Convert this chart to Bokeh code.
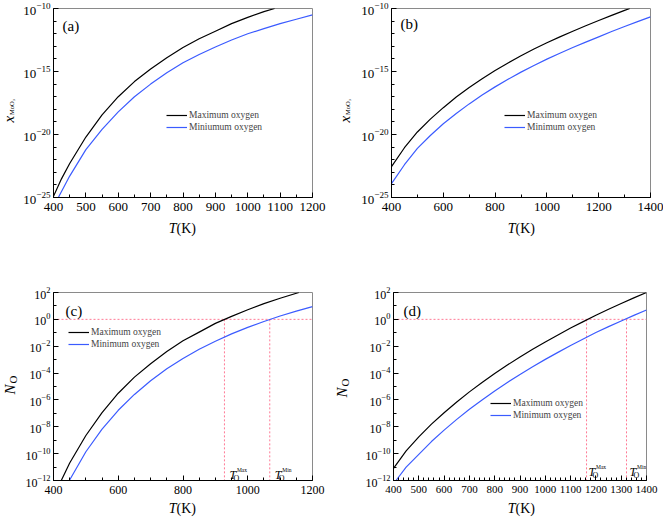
from bokeh.plotting import figure
from bokeh.models import Range1d, FixedTicker, Label, Legend, LegendItem
from bokeh.layouts import column, row
from bokeh.embed import file_html
from bokeh.resources import INLINE

# ---------------- data (log10 of the plotted quantity) ----------------
# (a) x_MoO3 vs T
a_T_max = [400, 425, 450, 500, 550, 600, 650, 700, 750, 800, 850, 900, 950, 1000, 1050, 1083]
a_lg_max = [-24.9, -23.5, -22.3, -20.2, -18.45, -17.0, -15.8, -14.8, -13.9, -13.1, -12.4, -11.8, -11.2, -10.7, -10.25, -10.0]
a_T_min = [415, 450, 500, 550, 600, 650, 700, 750, 800, 850, 900, 950, 1000, 1050, 1100, 1150, 1200]
a_lg_min = [-25.0, -23.3, -21.2, -19.6, -18.2, -17.0, -16.0, -15.1, -14.3, -13.65, -13.05, -12.5, -12.0, -11.6, -11.2, -10.85, -10.5]

# (b) x_MoO3 vs T
b_T_max = [400, 450, 500, 550, 600, 650, 700, 750, 800, 850, 900, 950, 1000, 1050, 1100, 1150,
           1200, 1250, 1300, 1320]
b_lg_max = [-22.55, -21.05, -19.8, -18.78, -17.87, -17.03, -16.27, -15.57, -14.92, -14.32, -13.75,
            -13.22, -12.72, -12.25, -11.8, -11.37, -10.95, -10.55, -10.15, -10.0]
b_T_min = [400, 450, 500, 550, 600, 650, 700, 750, 800, 850, 900, 950, 1000, 1050, 1100, 1150,
           1200, 1250, 1300, 1350, 1400]
b_lg_min = [-23.9, -22.4, -21.1, -20.08, -19.15, -18.33, -17.57, -16.87, -16.22, -15.62, -15.05,
            -14.52, -14.02, -13.55, -13.1, -12.67, -12.25, -11.83, -11.43, -11.04, -10.66]

# (c) N_O vs T
c_T_max = [424, 450, 500, 550, 600, 650, 700, 750, 800, 850, 900, 950, 1000, 1050, 1100, 1158]
c_lg_max = [-12.0, -10.7, -8.65, -6.95, -5.5, -4.3, -3.3, -2.4, -1.6, -0.95, -0.3, 0.22, 0.72, 1.17, 1.57, 2.0]
c_T_min = [449, 500, 550, 600, 650, 700, 750, 800, 850, 900, 950, 1000, 1050, 1100, 1150, 1200]
c_lg_min = [-12.0, -9.86, -8.18, -6.77, -5.59, -4.57, -3.68, -2.91, -2.23, -1.63, -1.08, -0.6, -0.16, 0.25, 0.61, 0.95]
c_T_O = [928, 1068]

# (d) N_O vs T
d_T_max = [400, 450, 500, 550, 600, 650, 700, 750, 800, 850, 900, 950, 1000, 1050, 1100, 1150,
           1200, 1250, 1300, 1350, 1400]
d_lg_max = [-11.1, -9.8, -8.75, -7.8, -6.95, -6.15, -5.4, -4.7, -4.03, -3.4, -2.8, -2.23, -1.68,
            -1.16, -0.65, -0.17, 0.3, 0.75, 1.18, 1.6, 2.0]
d_T_min = [410, 450, 500, 550, 600, 650, 700, 750, 800, 850, 900, 950, 1000, 1050, 1100, 1150,
           1200, 1250, 1300, 1350, 1400]
d_lg_min = [-12.0, -11.0, -10.05, -9.1, -8.25, -7.45, -6.7, -6.0, -5.33, -4.7, -4.1, -3.53, -2.98,
            -2.46, -1.95, -1.46, -0.98, -0.54, -0.12, 0.3, 0.7]
d_T_O = [1163, 1321]

N_O_ref = 1.0

legend_a = ["Maximum oxygen", "Miniumum oxygen"]
legend_bcd = ["Maximum oxygen", "Minimum oxygen"]

FONT = "Liberation Serif"
BLACK = "#000000"
BLUE = "#3b5bff"
RED = "#ff7a95"


def pw(v):
    return [10.0 ** x for x in v]


def make_fig(width, height, borders, xr, yr, xmaj, xminor, ymaj, yminor, xfs, yfs):
    l, r, t, b = borders
    p = figure(width=width, height=height, title=None,
               x_range=Range1d(*xr), y_range=Range1d(*yr),
               y_axis_type="log", output_backend="svg", toolbar_location=None,
               min_border_left=l, min_border_right=r,
               min_border_top=t, min_border_bottom=b)
    p.xgrid.visible = False
    p.ygrid.visible = False
    p.outline_line_color = "#8a8a8a"
    p.background_fill_color = "white"
    p.border_fill_color = "white"
    p.xaxis.ticker = FixedTicker(ticks=xmaj, minor_ticks=xminor)
    p.yaxis.ticker = FixedTicker(ticks=ymaj, minor_ticks=yminor)
    for ax, fs in ((p.xaxis[0], xfs), (p.yaxis[0], yfs)):
        ax.major_tick_in = 5
        ax.major_tick_out = 0
        ax.minor_tick_in = 3
        ax.minor_tick_out = 0
        ax.axis_line_color = BLACK
        ax.major_tick_line_color = BLACK
        ax.minor_tick_line_color = BLACK
        ax.major_label_text_font = FONT
        ax.major_label_text_font_size = fs
        ax.major_label_text_color = BLACK
    p.xaxis.major_label_standoff = 5
    p.yaxis.major_label_standoff = 3
    return p


def add_curves(p, Tmax, lgmax, Tmin, lgmin, labels, leg_xy):
    r1 = p.line(Tmax, pw(lgmax), line_color=BLACK, line_width=1.2)
    r2 = p.line(Tmin, pw(lgmin), line_color=BLUE, line_width=1.2)
    leg = Legend(items=[LegendItem(label=labels[0], renderers=[r1]),
                        LegendItem(label=labels[1], renderers=[r2])],
                 location=leg_xy, border_line_color=None, background_fill_alpha=0,
                 padding=0, margin=0, spacing=0, glyph_width=21, glyph_height=12,
                 label_height=12, label_standoff=2, label_text_font=FONT,
                 label_text_font_size="9.5px")
    p.add_layout(leg)


def lab(text, size, italic=False, align="left", baseline="alphabetic", angle=0, **kw):
    return Label(text=text, text_font=FONT, text_font_size=size,
                 text_font_style="italic" if italic else "normal",
                 text_align=align, text_baseline=baseline, text_color=BLACK,
                 angle=angle, angle_units="deg", **kw)


def inner(p, text, x, y, size, **kw):
    # text inside the frame, frame-relative screen position
    p.add_layout(lab(text, size, x=x, y=y, x_units="screen", y_units="screen", **kw))


def outer(p, place, text, xo, yo, size, **kw):
    # text outside the frame: anchored at the bottom-left corner of the data range
    p.add_layout(lab(text, size, x=p.x_range.start, y=p.y_range.start,
                     x_units="data", y_units="data", x_offset=xo, y_offset=yo, **kw), place)


def xlabel(p, placeT, placeK, xj, yc, size="14px"):
    outer(p, placeT, "T", xj, yc, size, italic=True, align="right", baseline="middle")
    outer(p, placeK, "(K)", xj, yc, size, align="left", baseline="middle")


def t_label(p, T, dx, yb, sup):
    p.add_layout(lab("T", "12px", italic=True, x=T, y=yb, x_units="data", y_units="screen", x_offset=dx))
    p.add_layout(lab("O", "8px", x=T, y=yb - 4, x_units="data", y_units="screen", x_offset=dx + 4))
    p.add_layout(lab(sup, "5.5px", x=T, y=yb + 4.5, x_units="data", y_units="screen", x_offset=dx + 7.5))


def ref_lines(p, TO, xr, ybottom):
    p.line(list(xr), [N_O_ref, N_O_ref], line_color=RED, line_width=1, line_dash="2 2")
    for t in TO:
        p.line([t, t], [N_O_ref, ybottom], line_color=RED, line_width=1, line_dash="2 2")


dec_ab = [10.0 ** k for k in range(-25, -9)]
maj_ab = [1e-25, 1e-20, 1e-15, 1e-10]
dec_cd = [10.0 ** k for k in range(-12, 3)]
maj_cd = [10.0 ** k for k in range(-12, 3, 2)]

# ---------- (a) ----------
pa = make_fig(330, 260, (53, 18, 8, 63), (400, 1200), (1e-25, 1e-10),
              list(range(400, 1201, 100)), list(range(400, 1201, 50)), maj_ab, dec_ab,
              "13px", "13px")
add_curves(pa, a_T_max, a_lg_max, a_T_min, a_lg_min, legend_a, (113, 64))
xlabel(pa, "below", "below", 123, -30.5)
outer(pa, "left", "x", -45, 75, "15px", italic=True, angle=90)
outer(pa, "right", "MoO\u2083", -42, 82.5, "6.5px", angle=90)
inner(pa, "(a)", 9, 180, "15px", baseline="top")

# ---------- (b) ----------
pb = make_fig(333, 260, (61, 13, 8, 63), (400, 1400), (1e-25, 1e-10),
              list(range(400, 1401, 200)), list(range(400, 1401, 100)), maj_ab, dec_ab,
              "13px", "13px")
add_curves(pb, b_T_max, b_lg_max, b_T_min, b_lg_min, legend_bcd, (113, 64))
xlabel(pb, "below", "below", 124, -30.5)
outer(pb, "left", "x", -47, 75, "15px", italic=True, angle=90)
outer(pb, "left", "MoO\u2083", -44, 82.5, "6.5px", angle=90)
inner(pb, "(b)", 9, 182, "15px", baseline="top")

# ---------- (c) ----------
pc = make_fig(330, 260, (53, 18, 32, 37), (400, 1200), (1e-12, 1e2),
              list(range(400, 1201, 200)), list(range(400, 1201, 50)), maj_cd, dec_cd,
              "12px", "12px")
ref_lines(pc, c_T_O, (400, 1200), 1e-12)
add_curves(pc, c_T_max, c_lg_max, c_T_min, c_lg_min, legend_bcd, (15, 130))
xlabel(pc, "below", "above", 123, -28)
outer(pc, "left", "N", -44, 86, "15px", italic=True, angle=90)
outer(pc, "right", "O", -41, 97, "11px", angle=90)
t_label(pc, c_T_O[0], 5, 6, "Max")
t_label(pc, c_T_O[1], 5, 6, "Min")
inner(pc, "(c)", 12, 178, "15px", baseline="top")

# ---------- (d) ----------
pd_ = make_fig(333, 260, (63, 17, 32, 40), (400, 1400), (1e-12, 1e2),
               list(range(400, 1401, 100)), list(range(400, 1401, 20)), maj_cd, dec_cd,
               "11px", "12px")
ref_lines(pd_, d_T_O, (400, 1400), 1e-12)
add_curves(pd_, d_T_max, d_lg_max, d_T_min, d_lg_min, legend_bcd, (97, 59))
xlabel(pd_, "below", "above", 122, -28)
outer(pd_, "left", "N", -52, 83, "15px", italic=True, angle=90)
outer(pd_, "left", "O", -49, 94, "11px", angle=90)
t_label(pd_, d_T_O[0], 2, 9, "Max")
t_label(pd_, d_T_O[1], 3, 9, "Min")
inner(pd_, "(d)", 10, 178, "15px", baseline="top")

layout = column(row(pa, pb), row(pc, pd_))
open("out.html", "w").write(file_html(layout, INLINE))
